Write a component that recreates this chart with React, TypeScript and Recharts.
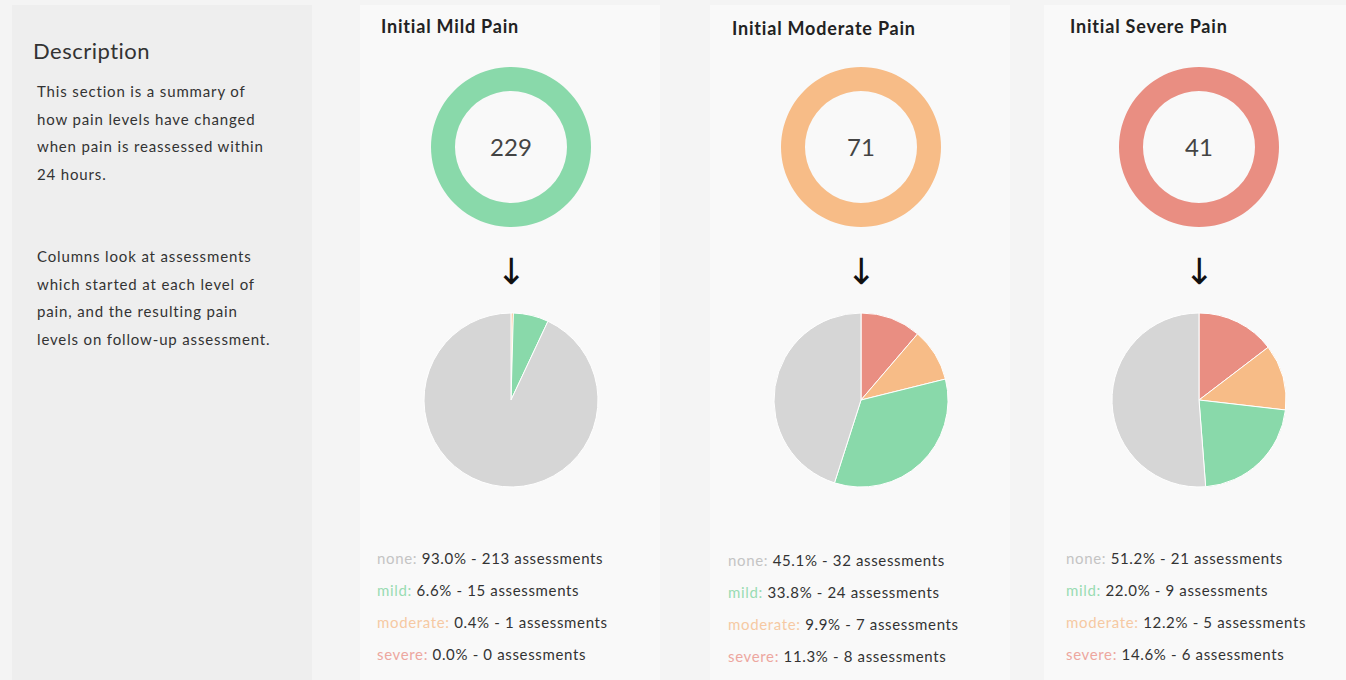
import React from "react";
import { PieChart, Pie, Cell, Label } from "recharts";

// follow-up pain levels, in legend order
const levels = ["none", "mild", "moderate", "severe"];
const levelColors = ["#d6d6d6", "#89d9aa", "#f7bc87", "#e98e82"];
const labelColors = ["#c4c4c4", "#9adcb3", "#f6c9a3", "#eda79f"];

const columnTitles = ["Initial Mild Pain", "Initial Moderate Pain", "Initial Severe Pain"];
const initialTotals = [229, 71, 41];
const mildFollowUp = [213, 15, 1, 0];
const moderateFollowUp = [32, 24, 7, 8];
const severeFollowUp = [21, 9, 5, 6];
const followUps = [mildFollowUp, moderateFollowUp, severeFollowUp];

// layout of each column on the page
const panels = [
    { left: 360, width: 300, cx: 511, titleX: 381, legendX: 377, legendTop: 547 },
    { left: 710, width: 300, cx: 861, titleX: 732, legendX: 728, legendTop: 549 },
    { left: 1044, width: 302, cx: 1199, titleX: 1070, legendX: 1066, legendTop: 547 },
];

const font = "Lato, 'Open Sans', sans-serif";
const noMargin = { top: 0, right: 0, bottom: 0, left: 0 };

function Column({ index }: { index: number }) {
    const p = panels[index];
    const total = initialTotals[index];
    const counts = followUps[index];
    // pie runs clockwise from 12 o'clock: severe, moderate, mild, none
    const pieData = levels
        .map((name, i) => ({ name, value: counts[i], color: levelColors[i] }))
        .reverse();
    const ringData = [{ name: "total", value: total }];

    return (
        <>
            <div
                style={{
                    position: "absolute",
                    left: p.left,
                    top: 5,
                    width: p.width,
                    height: 675,
                    background: "#f9f9f9",
                }}
            />
            <div
                style={{
                    position: "absolute",
                    left: p.titleX,
                    top: index === 1 ? 17 : 15,
                    fontSize: 18,
                    fontWeight: 700,
                    letterSpacing: 0.8,
                    color: "#222",
                    whiteSpace: "nowrap",
                }}
            >
                {columnTitles[index]}
            </div>
            <div style={{ position: "absolute", left: p.cx - 100, top: 47 }}>
                <PieChart width={200} height={200} margin={noMargin}>
                    <Pie
                        data={ringData}
                        dataKey="value"
                        cx={100}
                        cy={100}
                        innerRadius={56}
                        outerRadius={80}
                        startAngle={90}
                        endAngle={-270}
                        stroke="none"
                        isAnimationActive={false}
                    >
                        <Cell fill={levelColors[index + 1]} />
                        <Label
                            value={total}
                            position="center"
                            fill="#444"
                            fontSize={24}
                            fontFamily={font}
                        />
                    </Pie>
                </PieChart>
            </div>
            <div
                style={{
                    position: "absolute",
                    left: p.cx - 25,
                    width: 50,
                    top: 252,
                    textAlign: "center",
                    fontSize: 36,
                    lineHeight: "40px",
                    color: "#111",
                    fontFamily: "DejaVu Sans, sans-serif",
                }}
            >
                ↓
            </div>
            <div style={{ position: "absolute", left: p.cx - 110, top: 290 }}>
                <PieChart width={220} height={220} margin={noMargin}>
                    <Pie
                        data={pieData}
                        dataKey="value"
                        cx={110}
                        cy={110}
                        outerRadius={87}
                        startAngle={90}
                        endAngle={-270}
                        stroke="#ffffff"
                        strokeWidth={1}
                        isAnimationActive={false}
                    >
                        {pieData.map((d) => (
                            <Cell key={d.name} fill={d.color} />
                        ))}
                    </Pie>
                </PieChart>
            </div>
            <div
                style={{
                    position: "absolute",
                    left: p.legendX,
                    top: p.legendTop,
                    fontSize: 15,
                    letterSpacing: 0.65,
                }}
            >
                {levels.map((name, i) => (
                    <div key={name} style={{ height: 32, lineHeight: "22px", whiteSpace: "nowrap" }}>
                        <span style={{ color: labelColors[i] }}>{name}: </span>
                        <span style={{ color: "#333" }}>
                            {((counts[i] / total) * 100).toFixed(1)}% - {counts[i]} assessments
                        </span>
                    </div>
                ))}
            </div>
        </>
    );
}

export default function App() {
    return (
        <div
            style={{
                position: "absolute",
                left: 0,
                top: 0,
                width: 1346,
                height: 680,
                background: "#f4f4f4",
                fontFamily: font,
                overflow: "hidden",
            }}
        >
            <div
                style={{
                    position: "absolute",
                    left: 12,
                    top: 5,
                    width: 300,
                    height: 675,
                    background: "#eeeeee",
                    color: "#333",
                }}
            >
                <div style={{ position: "absolute", left: 21, top: 32, fontSize: 22, letterSpacing: 0.5 }}>
                    Description
                </div>
                <div
                    style={{
                        position: "absolute",
                        left: 25,
                        top: 73,
                        fontSize: 15,
                        lineHeight: "27.5px",
                        letterSpacing: 0.85,
                        width: 270,
                        whiteSpace: "nowrap",
                    }}
                >
                    This section is a summary of
                    <br />
                    how pain levels have changed
                    <br />
                    when pain is reassessed within
                    <br />
                    24 hours.
                </div>
                <div
                    style={{
                        position: "absolute",
                        left: 25,
                        top: 238,
                        fontSize: 15,
                        lineHeight: "27.5px",
                        letterSpacing: 0.85,
                        width: 270,
                        whiteSpace: "nowrap",
                    }}
                >
                    Columns look at assessments
                    <br />
                    which started at each level of
                    <br />
                    pain, and the resulting pain
                    <br />
                    levels on follow-up assessment.
                </div>
            </div>
            {panels.map((_, i) => (
                <Column key={i} index={i} />
            ))}
        </div>
    );
}
